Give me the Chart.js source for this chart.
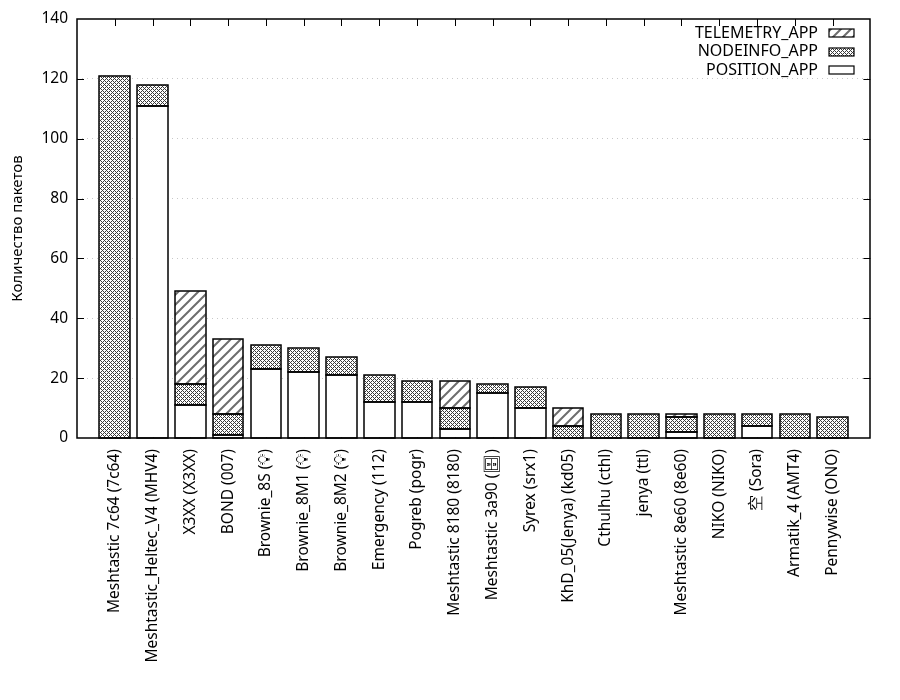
<!DOCTYPE html>
<html><head><meta charset="utf-8">
<script src="https://cdn.jsdelivr.net/npm/chart.js@4"></script>
<style>html,body{margin:0;padding:0;background:#fff}</style>
</head><body>
<canvas id="c" width="900" height="700"></canvas>
<script>
const categories = [
  "Meshtastic 7c64 (7c64)", "Meshtastic_Heltec_V4 (MHV4)", "X3XX (X3XX)", "BOND (007)",
  "Brownie_8S (💡\uFE0E)", "Brownie_8M1 (💡\uFE0E)", "Brownie_8M2 (💡\uFE0E)", "Emergency (112)",
  "Pogreb (pogr)", "Meshtastic 8180 (8180)", "Meshtastic 3a90 (🗄\uFE0E)", "Syrex (srx1)",
  "KhD_05(Jenya) (kd05)", "Cthulhu (cthl)", "jenya (ttl)", "Meshtastic 8e60 (8e60)",
  "NIKO (NIKO)", "空 (Sora)", "Armatik_4 (AMT4)", "Pennywise (ONO)"
];
const positionApp  = [0, 111, 11, 1, 23, 22, 21, 12, 12, 3, 15, 10, 0, 0, 0, 2, 0, 4, 0, 0];
const nodeinfoApp  = [121, 7, 7, 7, 8, 8, 6, 9, 7, 7, 3, 7, 4, 8, 8, 5, 8, 4, 8, 7];
const telemetryApp = [0, 0, 31, 25, 0, 0, 0, 0, 0, 9, 0, 0, 6, 0, 0, 1, 0, 0, 0, 0];
const seriesNames = ["POSITION_APP", "NODEINFO_APP", "TELEMETRY_APP"];
const yTitle = "Количество пакетов";
const yMin = 0, yMax = 140, yStep = 20;

const FONT = "'Noto Sans', 'DejaVu Sans', sans-serif";

function crossHatch() {
  const c = document.createElement('canvas'); c.width = 4; c.height = 4;
  const g = c.getContext('2d');
  g.fillStyle = '#fff'; g.fillRect(0, 0, 4, 4);
  g.fillStyle = '#3a3a3a';
  for (let x = 0; x < 4; x++) for (let y = 0; y < 4; y++) {
    if ((x + y) % 4 === 0 || ((x - y) + 4) % 4 === 0) g.fillRect(x, y, 1, 1);
  }
  return g.createPattern(c, 'repeat');
}
function stripes() {
  const c = document.createElement('canvas'); c.width = 10; c.height = 10;
  const g = c.getContext('2d');
  g.fillStyle = '#fff'; g.fillRect(0, 0, 10, 10);
  g.strokeStyle = '#6e6e6e'; g.lineWidth = 2;
  g.beginPath();
  g.moveTo(-2, 12); g.lineTo(12, -2);
  g.moveTo(-2, 2); g.lineTo(2, -2);
  g.moveTo(8, 12); g.lineTo(12, 8);
  g.stroke();
  return g.createPattern(c, 'repeat');
}
const fills = ['#ffffff', crossHatch(), stripes()];

const labels = [''].concat(categories, ['']);
const pad = arr => [null].concat(arr.map(v => v === 0 ? null : v), [null]);
const seriesData = [positionApp, nodeinfoApp, telemetryApp];

const datasets = seriesData.map((d, i) => ({
  label: seriesNames[i],
  data: pad(d),
  backgroundColor: fills[i],
  borderWidth: 0,
  barPercentage: 0.81,
  categoryPercentage: 1.0
}));

const framePlugin = {
  id: 'frame',
  beforeDatasetsDraw(chart) {
    const {ctx, chartArea: a, scales: {x, y}} = chart;
    ctx.save();
    ctx.strokeStyle = '#000'; ctx.lineWidth = 1;
    ctx.beginPath();
    for (let v = yMin + yStep; v < yMax; v += yStep) {
      const py = Math.round(y.getPixelForValue(v)) + 0.5;
      ctx.moveTo(a.left, py); ctx.lineTo(a.left + 7, py);
      ctx.moveTo(a.right, py); ctx.lineTo(a.right - 7, py);
    }
    for (let i = 1; i <= categories.length; i++) {
      const px = Math.round(x.getPixelForValue(i)) + 0.5;
      ctx.moveTo(px, a.top); ctx.lineTo(px, a.top + 7);
      ctx.moveTo(px, a.bottom); ctx.lineTo(px, a.bottom - 7);
    }
    ctx.stroke();
    ctx.restore();
  },
  afterDatasetsDraw(chart) {
    const {ctx} = chart;
    ctx.save();
    ctx.strokeStyle = '#000'; ctx.lineWidth = 1.5;
    chart.data.datasets.forEach((ds, di) => {
      const meta = chart.getDatasetMeta(di);
      meta.data.forEach((el, j) => {
        if (ds.data[j] == null) return;
        const p = el.getProps(['x', 'y', 'base', 'width'], true);
        const l = Math.round(p.x - p.width / 2), r = Math.round(p.x + p.width / 2);
        const t = Math.round(Math.min(p.y, p.base)), b = Math.round(Math.max(p.y, p.base));
        ctx.strokeRect(l, t, r - l, b - t);
      });
    });
    ctx.restore();
  },
  afterDraw(chart) {
    const {ctx, chartArea: a} = chart;
    ctx.save();
    ctx.strokeStyle = '#000'; ctx.lineWidth = 1.5;
    ctx.strokeRect(Math.round(a.left), Math.round(a.top),
                   Math.round(a.right - a.left), Math.round(a.bottom - a.top));
    // legend (inside, top right)
    ctx.font = '16px ' + FONT;
    ctx.textAlign = 'right'; ctx.textBaseline = 'middle'; ctx.fillStyle = '#000';
    ctx.lineWidth = 1.2;
    const order = [2, 1, 0];
    order.forEach((di, k) => {
      const cy = 33 + k * 18.5;
      ctx.fillText(chart.data.datasets[di].label, 818, cy);
      ctx.fillStyle = fills[di];
      ctx.fillRect(829, Math.round(cy - 4), 25, 8);
      ctx.strokeRect(829, Math.round(cy - 4), 25, 8);
      ctx.fillStyle = '#000';
    });
    ctx.restore();
  }
};

new Chart(document.getElementById('c'), {
  type: 'bar',
  data: { labels, datasets },
  options: {
    responsive: false,
    animation: false,
    devicePixelRatio: 1,
    layout: { padding: { left: 0, right: 26, top: 19, bottom: 0 } },
    plugins: { legend: { display: false }, tooltip: { enabled: false } },
    scales: {
      x: {
        stacked: true,
        offset: false,
        grid: { display: false, drawTicks: false },
        border: { display: false },
        ticks: {
          autoSkip: false, maxRotation: 90, minRotation: 90,
          color: '#000', font: { family: FONT, size: 15.5 }, padding: 11
        },
        afterFit(s) { s.height = 262; }
      },
      y: {
        stacked: true,
        min: yMin, max: yMax,
        grid: {
          color: ctx => (ctx.tick && (ctx.tick.value === yMin || ctx.tick.value === yMax)) ? 'rgba(0,0,0,0)' : '#c8c8c8',
          lineWidth: 1, drawTicks: false
        },
        border: { display: false, dash: [1, 4] },
        ticks: { stepSize: yStep, color: '#000', font: { family: FONT, size: 15.5 }, padding: 9 },
        title: { display: true, text: yTitle, color: '#000', font: { family: FONT, size: 15 }, padding: { top: 9, bottom: 0 } },
        afterFit(s) { s.width = 77; }
      }
    }
  },
  plugins: [framePlugin]
});
</script>
</body></html>
